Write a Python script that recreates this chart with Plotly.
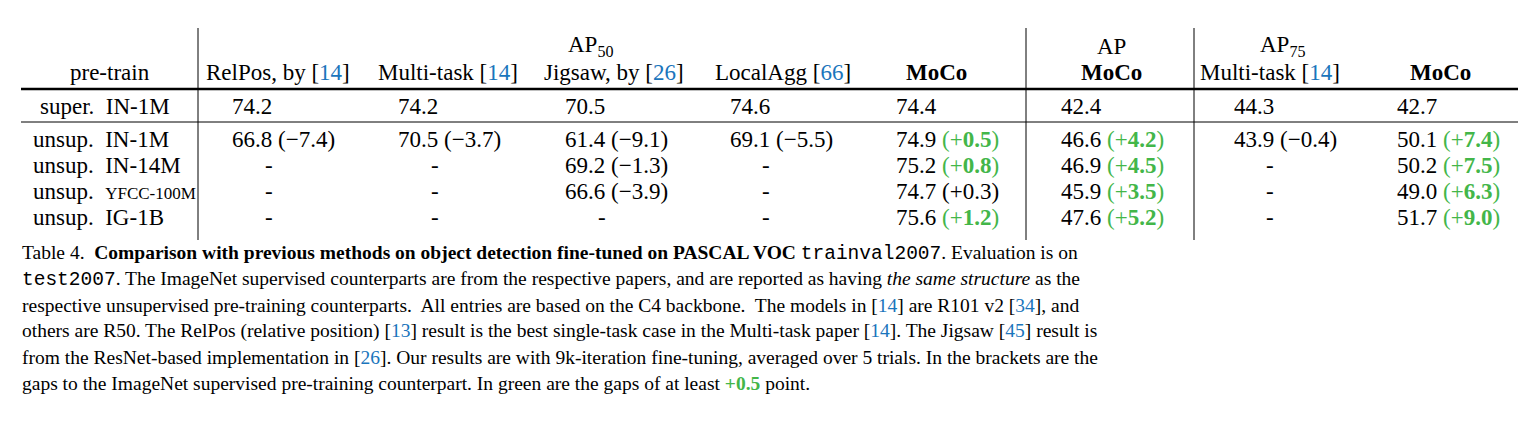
import plotly.graph_objects as go

# table content
pretrain = ["super.  IN-1M", "unsup.  IN-1M", "unsup.  IN-14M", "unsup.  YFCC-100M", "unsup.  IG-1B"]
relpos = [(74.2, None), (66.8, -7.4), None, None, None]
multitask50 = [(74.2, None), (70.5, -3.7), None, None, None]
jigsaw = [(70.5, None), (61.4, -9.1), (69.2, -1.3), (66.6, -3.9), None]
localagg = [(74.6, None), (69.1, -5.5), None, None, None]
moco50 = [(74.4, None), (74.9, 0.5), (75.2, 0.8), (74.7, 0.3), (75.6, 1.2)]
moco_ap = [(42.4, None), (46.6, 4.2), (46.9, 4.5), (45.9, 3.5), (47.6, 5.2)]
multitask75 = [(44.3, None), (43.9, -0.4), None, None, None]
moco75 = [(42.7, None), (50.1, 7.4), (50.2, 7.5), (49.0, 6.3), (51.7, 9.0)]

columns = [relpos, multitask50, jigsaw, localagg, moco50, moco_ap, multitask75, moco75]
col_x = [222, 388, 555, 720, 886, 1051, 1224, 1387]
dash_x = [261, 427, 594, 758, 925, 1090, 1262, 1426]
row_y = [98, 131, 157, 183, 209]

BLUE = "#1a75bc"
GREEN = "#43b649"
FONT = "Liberation Serif"
MONO = "Liberation Mono"
TS = 23


def cite(n):
    return f"[<span style='color:{BLUE}'>{n}</span>]"


def cell(v):
    val, d = v
    if d is None:
        return f"{val:.1f}"
    s = f"{abs(d):.1f}"
    if d >= 0.5:
        return f"{val:.1f} <span style='color:{GREEN}'>(+<b>{s}</b>)</span>"
    sign = "+" if d >= 0 else "\u2212"
    return f"{val:.1f} ({sign}{s})"


fig = go.Figure()
ann = []


def add(x, y, t, anchor="left", size=TS, font=FONT):
    ann.append(dict(x=x, y=y, text=t, xref="x", yref="y", showarrow=False,
                    xanchor=anchor, yanchor="middle",
                    font=dict(family=font, size=size, color="black")))


# headers
add(583, 38, "AP<sub>50</sub>", "center")
add(1103, 38, "AP", "center")
add(1275, 38, "AP<sub>75</sub>", "center")
add(102, 64, "pre-train", "center")
add(270, 64, "RelPos, by " + cite(14), "center")
add(440, 64, "Multi-task " + cite(14), "center")
add(606, 64, "Jigsaw, by " + cite(26), "center")
add(775, 64, "LocalAgg " + cite(66), "center")
add(928, 64, "<b>MoCo</b>", "center")
add(1103, 64, "<b>MoCo</b>", "center")
add(1262, 64, "Multi-task " + cite(14), "center")
add(1432, 64, "<b>MoCo</b>", "center")

# rows
for i, lab in enumerate(pretrain):
    head, tail = lab.split("  ")
    size = 17 if tail == "YFCC-100M" else TS
    t = f"{head}  <span style='font-size:{size}px'>{tail}</span>"
    add(30 if i == 0 else 23, row_y[i], t)
for c, col in enumerate(columns):
    for i, v in enumerate(col):
        if v is None:
            add(dash_x[c], row_y[i], "-", "center")
        else:
            add(col_x[c], row_y[i], cell(v))

# caption
caption = [
    "Table 4.  <b>Comparison with previous methods on object detection fine-tuned on PASCAL VOC</b> "
    f"<span style='font-family:{MONO}'>trainval2007</span>. Evaluation is on",
    f"<span style='font-family:{MONO}'>test2007</span>. The ImageNet supervised counterparts are from the respective papers, and are reported as having <i>the same structure</i> as the",
    "respective unsupervised pre-training counterparts.  All entries are based on the C4 backbone.  The models in "
    + cite(14) + " are R101 v2 " + cite(34) + ", and",
    "others are R50. The RelPos (relative position) " + cite(13) + " result is the best single-task case in the Multi-task paper "
    + cite(14) + ". The Jigsaw " + cite(45) + " result is",
    "from the ResNet-based implementation in " + cite(26)
    + ". Our results are with 9k-iteration fine-tuning, averaged over 5 trials. In the brackets are the",
    "gaps to the ImageNet supervised pre-training counterpart. In green are the gaps of at least "
    f"<span style='color:{GREEN}'><b>+0.5</b></span> point.",
]
cap_y = [245, 271, 297, 323, 349, 375]
for t, y in zip(caption, cap_y):
    add(12, y, t, size=19.5)

# rules
shapes = [
    dict(type="line", x0=13, x1=1512, y0=81, y1=81, line=dict(color="black", width=2.5)),
    dict(type="line", x0=13, x1=1512, y0=114, y1=114, line=dict(color="black", width=1)),
]
for vx in [190, 1018, 1186]:
    shapes.append(dict(type="line", x0=vx, x1=vx, y0=20, y1=232, line=dict(color="black", width=1)))

fig.update_layout(
    width=1526, height=429, margin=dict(l=0, r=0, t=0, b=0),
    plot_bgcolor="white", paper_bgcolor="white",
    xaxis=dict(range=[0, 1526], visible=False, fixedrange=True),
    yaxis=dict(range=[429, 0], visible=False, fixedrange=True),
    annotations=ann, shapes=shapes, showlegend=False,
)
fig.write_html("out.html")
